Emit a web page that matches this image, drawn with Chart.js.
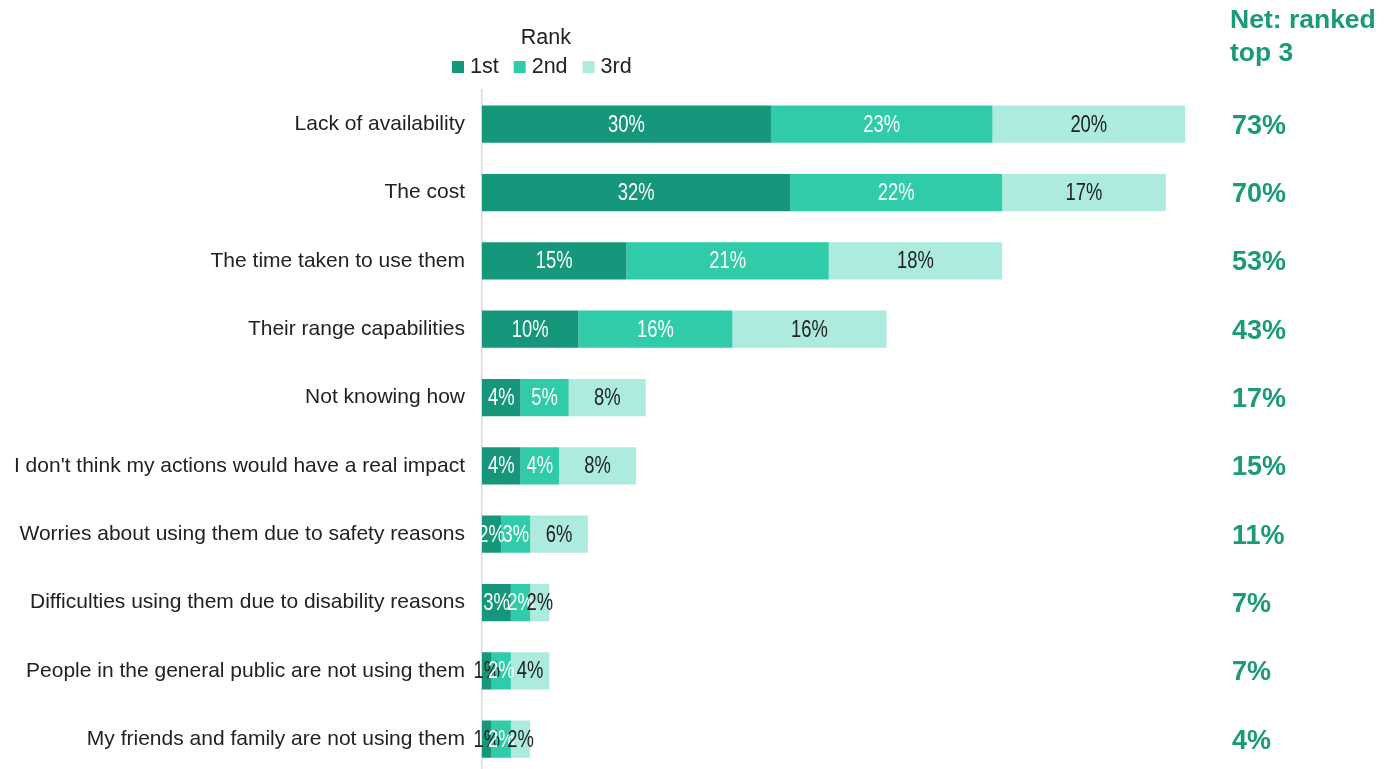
<!DOCTYPE html>
<html>
<head>
<meta charset="utf-8">
<script src="https://cdn.jsdelivr.net/npm/chart.js@4"></script>
<style>
  html, body { margin: 0; padding: 0; background: #fff; overflow: hidden; }
  canvas { display: block; }
</style>
</head>
<body>
<canvas id="grafica" width="1396" height="803"></canvas>
<script>
const categorias = [
  "Lack of availability",
  "The cost",
  "The time taken to use them",
  "Their range capabilities",
  "Not knowing how",
  "I don't think my actions would have a real impact",
  "Worries about using them due to safety reasons",
  "Difficulties using them due to disability reasons",
  "People in the general public are not using them",
  "My friends and family are not using them"
];
const rangos = ["1st", "2nd", "3rd"];
const primero = [30, 32, 15, 10, 4, 4, 2, 3, 1, 1];
const segundo = [23, 22, 21, 16, 5, 4, 3, 2, 2, 2];
const tercero = [20, 17, 18, 16, 8, 8, 6, 2, 4, 2];
const netoTop3 = [73, 70, 53, 43, 17, 15, 11, 7, 7, 4];
const tituloLeyenda = "Rank";
const tituloNeto = ["Net: ranked", "top 3"];

const colores = ["#16967a", "#30cba8", "#adebdf"];
const verdeNeto = "#1a9a78";
const fuente = "Liberation Sans";

// percentages written inside each segment (squeezed a little, like a narrow face)
const etiquetasBarras = {
  id: "etiquetasBarras",
  afterDatasetsDraw(chart) {
    const ctx = chart.ctx;
    ctx.save();
    ctx.font = "23px " + fuente;
    ctx.textAlign = "center";
    ctx.textBaseline = "middle";
    chart.data.datasets.forEach((ds, i) => {
      chart.getDatasetMeta(i).data.forEach((bar, j) => {
        const v = ds.data[j];
        let color = i === 2 ? "#222" : "#fff";
        if (i === 0 && v < 2) color = "#222";
        ctx.fillStyle = color;
        ctx.save();
        ctx.translate((bar.x + bar.base) / 2, bar.y + 1);
        ctx.scale(0.8, 1);
        ctx.fillText(v + "%", 0, 0);
        ctx.restore();
      });
    });
    ctx.restore();
  }
};

// net column on the right and the rank legend on top
const extras = {
  id: "extras",
  afterDraw(chart) {
    const ctx = chart.ctx;
    const area = chart.chartArea;
    const yScale = chart.scales.y;
    ctx.save();

    const xNeto = area.right + 18;
    ctx.fillStyle = verdeNeto;
    ctx.textAlign = "left";
    ctx.textBaseline = "middle";
    ctx.font = "bold 26.5px " + fuente;
    ctx.fillText(tituloNeto[0], xNeto - 2, 21);
    ctx.fillText(tituloNeto[1], xNeto - 2, 54);
    ctx.font = "bold 27px " + fuente;
    netoTop3.forEach((v, i) => {
      ctx.fillText(v + "%", xNeto, yScale.getPixelForValue(i) + 2);
    });

    // legend
    ctx.font = "21.5px " + fuente;
    const caja = 12, hueco = 6, sep = 15;
    let anchoTotal = 0;
    rangos.forEach((r, i) => {
      anchoTotal += caja + hueco + ctx.measureText(r).width + (i < rangos.length - 1 ? sep : 0);
    });
    let x = area.left - 30;
    const x0 = x;
    ctx.fillStyle = "#222";
    ctx.textAlign = "center";
    ctx.fillText(tituloLeyenda, x0 + anchoTotal / 2 + 4, 38);
    ctx.textAlign = "left";
    rangos.forEach((r, i) => {
      ctx.fillStyle = colores[i];
      ctx.fillRect(x, 61, caja, caja);
      x += caja + hueco;
      ctx.fillStyle = "#222";
      ctx.fillText(r, x, 67);
      x += ctx.measureText(r).width + sep;
    });
    ctx.restore();
  }
};

const dibujar = () => {
  const $grafica = document.getElementById("grafica");
  new Chart($grafica, {
    type: "bar",
    data: {
      labels: categorias,
      datasets: [
        { label: rangos[0], data: primero, backgroundColor: colores[0] },
        { label: rangos[1], data: segundo, backgroundColor: colores[1] },
        { label: rangos[2], data: tercero, backgroundColor: colores[2] }
      ]
    },
    options: {
      indexAxis: "y",
      responsive: false,
      animation: false,
      layout: { padding: { top: 90, right: 182, left: 0, bottom: 0 } },
      datasets: {
        bar: { barPercentage: 0.545, categoryPercentage: 1, borderWidth: 0 }
      },
      scales: {
        x: {
          stacked: true,
          display: false,
          min: 0,
          max: 76
        },
        y: {
          stacked: true,
          afterFit(scale) { scale.width = 482; },
          grid: { display: false, drawTicks: false },
          border: { display: true, color: "#d9d9d9", width: 1.5 },
          ticks: {
            padding: 17,
            color: "#222",
            font: { family: fuente, size: 21 }
          }
        }
      },
      plugins: {
        legend: { display: false },
        tooltip: { enabled: false }
      }
    },
    plugins: [etiquetasBarras, extras]
  });
};

document.fonts.load("21px 'Liberation Sans'").then(dibujar, dibujar);
</script>
</body>
</html>
